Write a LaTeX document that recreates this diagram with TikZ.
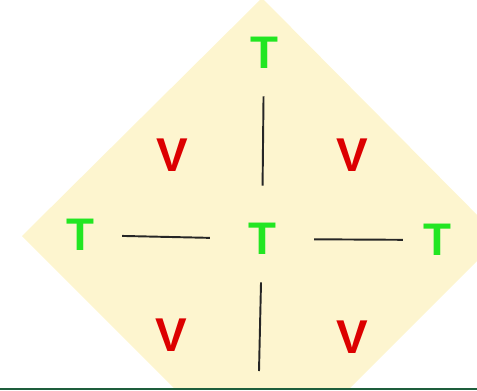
\documentclass[tikz,border=0pt]{standalone}
\usepackage{fontspec}
\setmainfont{Liberation Sans}
\definecolor{cream}{RGB}{253,245,207}
\definecolor{tgreen}{RGB}{34,230,34}
\definecolor{vred}{RGB}{220,0,0}
\definecolor{rulegreen}{RGB}{30,94,60}
\tikzset{
  tnode/.style={text=tgreen,font=\fontsize{26}{26}\selectfont\bfseries,inner sep=0pt},
  vnode/.style={text=vred,font=\fontsize{27}{27}\selectfont\bfseries,inner sep=0pt},
  bar/.style={line width=1.1pt,draw=black!85}
}
\begin{document}
\begin{tikzpicture}[x=0.02cm,y=-0.02cm]
      \useasboundingbox (0,0) rectangle (477,390);
      \begin{scope}
        \clip (0,0) rectangle (477,388);
        \fill[cream] (262,-2)--(500,238)--(262,476)--(22,236)--cycle;
      \end{scope}
      \draw[rulegreen,line width=0.6pt] (0,389)--(477,389);

      % T
      \node[tnode] (ttop) at (264,53) {T};
      \node[tnode] (tmid) at (262,239) {T};
      \node[tnode] (tleft) at (80,235) {T};
      \node[tnode] (tright) at (437,240) {T};
      \coordinate (bot) at (259,371);

      % V
      \node[vnode] (vtl) at (172,155) {V};
      \node[vnode] (vtr) at (352,155) {V};
      \node[vnode] (vbl) at (171,335) {V};
      \node[vnode] (vbr) at (352,337) {V};

      % Striche
      \draw[bar,shorten <=15.6pt,shorten >=21.3pt] (ttop) -- (tmid);
      \draw[bar,shorten <=15.9pt,shorten >=21.5pt] (tleft) -- (tmid);
      \draw[bar,shorten <=21.5pt,shorten >=11.3pt] (tmid) -- (tright);
      \draw[bar,shorten <=15.6pt] (tmid) -- (bot);
    \end{tikzpicture}
\end{document}
